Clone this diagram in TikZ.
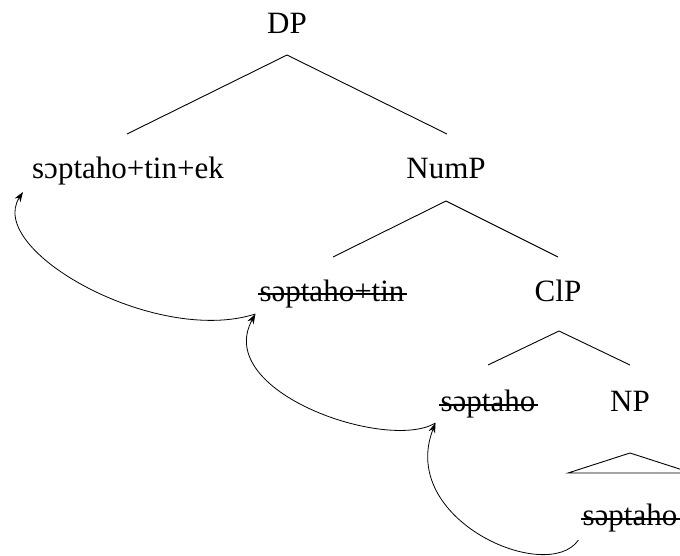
\documentclass[tikz,border=0pt]{standalone}
\usepackage{fontspec}
\setmainfont{Liberation Serif}
\usetikzlibrary{arrows.meta}
\begin{document}
\begin{tikzpicture}[x=1pt,y=-1pt,
  lbl/.style={anchor=base, inner sep=0pt, font=\fontsize{31}{37}\selectfont},
  branch/.style={line width=0.9pt},
  strikeline/.style={line width=1.1pt},
  move/.style={line width=0.8pt, -{Stealth[length=10pt,width=7pt]}}]
\useasboundingbox (0,0) rectangle (680,555);
% labels
\node[lbl] (DP)   at (287,33)  {DP};
\node[lbl] (w1)   at (128,178) {sɔptaho+tin+ek};
\node[lbl] (NumP) at (446,178) {NumP};
\node[lbl] (w2)   at (332,301) {səptaho+tin};
\node[lbl] (ClP)  at (558,301) {ClP};
\node[lbl] (w3)   at (488,411) {səptaho};
\node[lbl] (NP)   at (630,411) {NP};
\node[lbl] (w4)   at (630,525) {səptaho};
% branches
\draw[branch] ([shift={(-1,-44)}]w1.base) -- ([shift={(0,22)}]DP.base) -- ([shift={(1,-44)}]NumP.base);
\draw[branch] ([shift={(1,-44)}]w2.base) -- ([shift={(0,23)}]NumP.base) -- ([shift={(0,-44)}]ClP.base);
\draw[branch] ([shift={(0,-46)}]w3.base) -- ([shift={(1,30)}]ClP.base) -- ([shift={(0,-46)}]NP.base);
\draw[branch] ([shift={(-62,-52)}]w4.base) -- ([shift={(0,42)}]NP.base) -- ([shift={(62,-52)}]w4.base) -- cycle;
% strike-through
\draw[strikeline] ([shift={(-1,-7)}]w2.base west) -- ([shift={(2,-7)}]w2.base east);
\draw[strikeline] ([shift={(-1,-6)}]w3.base west) -- ([shift={(2,-6)}]w3.base east);
\draw[strikeline] ([shift={(-1,-6)}]w4.base west) -- ([shift={(4,-6)}]w4.base east);
% movement arrows
\coordinate (t1) at ([shift={(-9,14)}]w1.base west);
\coordinate (t2) at ([shift={(-4,13)}]w2.base west);
\coordinate (t3) at ([shift={(-5,12)}]w3.base west);
\coordinate (t4) at ([shift={(-4,15)}]w4.base west);
\draw[move] (t2) .. controls +(-100,32) and +(-38,58) .. (t1);
\draw[move] (t3) .. controls +(-48,29) and +(-43,78) .. (t2);
\draw[move] (t4) .. controls +(-31,45) and +(-38,97) .. (t3);
\end{tikzpicture}
\end{document}
